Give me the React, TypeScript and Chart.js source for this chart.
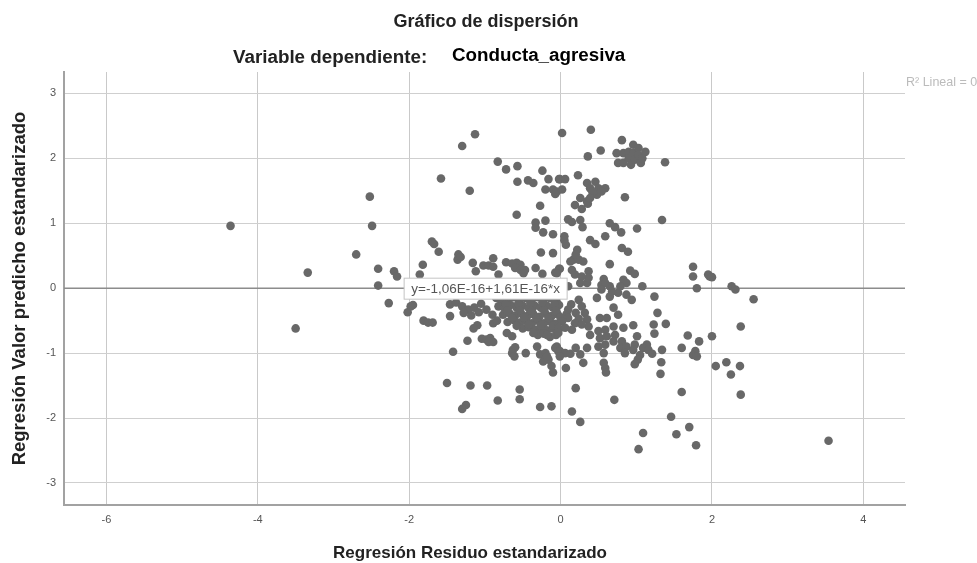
import React, { useEffect, useRef } from "react";
import { Chart, registerables } from "chart.js";

Chart.register(...registerables);

type Pt = [number, number];

const chartTitle = "Gráfico de dispersión";
const subtitleLabel = "Variable dependiente:";
const subtitleVariable = "Conducta_agresiva";
const xAxisTitle = "Regresión Residuo estandarizado";
const yAxisTitle = "Regresión Valor predicho estandarizado";
const fitLabel = "y=-1,06E-16+1,61E-16*x";
const legendLabel = "R² Lineal = 0";

const xBounds = [-6.56, 4.55];
const yBounds = [-3.34, 3.33];
const fitLineY = [0, 0];

const outliers: Pt[] = [
  [-4.36, 0.96], [-3.5, -0.62], [-3.34, 0.24], [-2.7, 0.52], [-2.52, 1.41], [-2.49, 0.96],
  [-2.41, 0.3], [-2.41, 0.04], [-2.27, -0.23], [-2.2, 0.26], [-2.16, 0.18], [3.54, -2.35],
];

const upperLeft: Pt[] = [
  [-1.13, 2.37], [-1.3, 2.19], [-0.83, 1.95], [-0.72, 1.83], [-0.57, 1.88], [-1.58, 1.69],
  [-1.2, 1.5], [-0.57, 1.64], [-0.43, 1.66], [-0.36, 1.62], [-0.24, 1.81], [-0.16, 1.68],
  [-0.2, 1.52], [-0.1, 1.52], [-0.07, 1.45], [-0.02, 1.68], [-0.27, 1.27], [-0.58, 1.13],
  [-0.33, 1.01], [-0.33, 0.93], [-0.2, 1.04], [-0.23, 0.86], [-0.1, 0.83], [-1.7, 0.72],
  [-1.67, 0.68], [-1.61, 0.56], [-1.35, 0.52], [-1.36, 0.44], [-1.32, 0.48], [-1.82, 0.36],
  [-1.86, 0.21], [-1.16, 0.39], [-1.12, 0.26], [-0.89, 0.46], [-1.02, 0.35], [-0.95, 0.35],
  [-0.89, 0.33], [-0.26, 0.55], [-0.1, 0.54], [-0.72, 0.4], [-0.64, 0.38], [-0.58, 0.39],
  [-0.53, 0.36], [-0.6, 0.31], [-0.53, 0.28], [-0.47, 0.28], [-0.49, 0.23], [-0.33, 0.31],
  [-0.24, 0.22], [-0.07, 0.24], [-0.02, 0.3], [-0.82, 0.21],
];

const upperRight: Pt[] = [
  [0.02, 2.39], [0.4, 2.44], [0.81, 2.28], [0.53, 2.12], [0.36, 2.03], [1.38, 1.94],
  [0.74, 2.08], [0.76, 1.93], [0.83, 1.93], [0.83, 2.08], [0.9, 2.1], [0.9, 2.0],
  [0.93, 1.9], [0.96, 2.21], [0.96, 2.08], [0.98, 1.98], [1.03, 2.16], [1.03, 2.05],
  [1.06, 1.93], [1.12, 2.1], [1.08, 2.0], [0.23, 1.74], [-0.01, 1.68], [0.06, 1.68],
  [-0.05, 1.49], [0.02, 1.52], [0.35, 1.62], [0.46, 1.64], [0.39, 1.54], [0.5, 1.54],
  [0.59, 1.54], [0.48, 1.44], [0.54, 1.49], [0.42, 1.48], [0.85, 1.4], [0.26, 1.39],
  [0.35, 1.34], [0.19, 1.28], [0.28, 1.22], [0.36, 1.3], [0.39, 1.39], [1.34, 1.05],
  [1.01, 0.92], [0.1, 1.06], [0.15, 1.02], [0.26, 1.05], [0.29, 0.94], [0.65, 1.0],
  [0.72, 0.94], [0.8, 0.86], [0.59, 0.8], [0.05, 0.8], [0.05, 0.74], [0.07, 0.67],
  [0.39, 0.74], [0.46, 0.68], [0.81, 0.62], [0.89, 0.56], [0.22, 0.59], [0.65, 0.37],
  [0.17, 0.44], [0.24, 0.44], [0.3, 0.41], [0.13, 0.41], [0.2, 0.52], [-0.01, 0.3],
  [-0.05, 0.23], [0.15, 0.28], [0.19, 0.21], [0.37, 0.26], [0.26, 0.08], [0.35, 0.08],
  [0.37, 0.16], [0.1, 0.03], [0.28, 0.18], [0.57, 0.14], [0.54, 0.05], [0.65, 0.03],
  [0.59, 0.08], [0.83, 0.13], [0.87, 0.08], [0.92, 0.27], [0.98, 0.22], [1.08, 0.03],
  [1.75, 0.33], [1.75, 0.18], [1.97, 0.18], [1.95, 0.21], [2.0, 0.17], [1.8, 0.0],
  [2.26, 0.03], [2.31, -0.02],
];

const lowerLeft: Pt[] = [
  [-1.95, -0.26], [-2.02, -0.37], [-1.98, -0.28], [-1.81, -0.5], [-1.75, -0.53], [-1.69, -0.53],
  [-1.46, -0.43], [-1.1, -0.57], [-1.15, -0.62], [-1.23, -0.81], [-1.04, -0.78], [-0.98, -0.79],
  [-0.93, -0.77], [-0.89, -0.83], [-0.95, -0.83], [-1.42, -0.98], [-1.5, -1.46], [-1.19, -1.5],
  [-0.97, -1.5], [-0.54, -1.56], [-0.54, -1.71], [-0.83, -1.73], [-1.25, -1.8], [-1.3, -1.86],
  [-0.27, -1.83], [-0.12, -1.82], [-0.63, -0.95], [-0.6, -0.91], [-0.64, -1.0], [-0.61, -1.05],
  [-0.46, -1.0], [-0.71, -0.69], [-0.64, -0.74], [-0.31, -0.9], [-0.27, -1.02], [-0.2, -1.0],
  [-0.16, -1.1], [-0.23, -1.13], [-0.12, -1.2], [-0.1, -1.3], [-0.18, -1.05], [-0.05, -0.9],
  [-0.03, -0.97], [-0.89, -0.54],
];

const denseCluster: Pt[] = [
  [-1.46, -0.25], [-1.38, -0.22], [-1.3, -0.28], [-1.22, -0.33], [-1.14, -0.3], [-1.05, -0.24],
  [-0.98, -0.33], [-0.9, -0.41], [-0.84, -0.5], [-1.28, -0.38], [-1.18, -0.42], [-1.08, -0.37],
  [-0.85, -0.15], [-0.78, -0.2], [-0.7, -0.17], [-0.62, -0.14], [-0.54, -0.19], [-0.46, -0.15],
  [-0.38, -0.18], [-0.3, -0.14], [-0.22, -0.17], [-0.14, -0.15], [-0.06, -0.19], [-0.82, -0.28],
  [-0.74, -0.31], [-0.66, -0.26], [-0.58, -0.3], [-0.5, -0.27], [-0.42, -0.31], [-0.34, -0.27],
  [-0.26, -0.3], [-0.18, -0.27], [-0.1, -0.3], [-0.02, -0.26], [-0.76, -0.41], [-0.68, -0.38],
  [-0.6, -0.42], [-0.52, -0.39], [-0.44, -0.43], [-0.36, -0.4], [-0.28, -0.44], [-0.2, -0.39],
  [-0.12, -0.43], [-0.04, -0.4], [-0.7, -0.52], [-0.62, -0.49], [-0.54, -0.53], [-0.46, -0.5],
  [-0.38, -0.54], [-0.3, -0.5], [-0.22, -0.54], [-0.14, -0.51], [-0.06, -0.55], [-0.5, -0.62],
  [-0.42, -0.6], [-0.34, -0.64], [-0.26, -0.61], [-0.18, -0.65], [-0.1, -0.62], [-0.3, -0.72],
  [-0.22, -0.7], [-0.14, -0.75], [-0.06, -0.72], [-0.72, -0.25], [-0.56, -0.24], [-0.4, -0.23],
  [-0.24, -0.22], [-0.08, -0.24], [-0.7, -0.35], [-0.54, -0.34], [-0.38, -0.35], [-0.22, -0.34],
  [-0.06, -0.35], [-0.64, -0.46], [-0.48, -0.45], [-0.32, -0.46], [-0.16, -0.46], [0.0, -0.45],
  [-0.58, -0.58], [-0.42, -0.56], [-0.26, -0.57], [-0.1, -0.58], [-0.36, -0.69], [-0.18, -0.72],
  [-0.02, -0.63], [0.08, -0.4], [0.14, -0.25], [0.2, -0.38], [0.24, -0.47], [-1.0, -0.1],
  [-0.9, -0.06], [-0.76, -0.08], [-0.6, -0.06], [-0.42, -0.08], [-0.26, -0.06], [-0.1, -0.08],
];

const lowerRight: Pt[] = [
  [1.24, -0.13], [1.28, -0.38], [1.23, -0.56], [1.39, -0.55], [1.24, -0.7], [1.68, -0.73],
  [1.83, -0.82], [2.0, -0.74], [1.6, -0.92], [1.78, -0.97], [1.75, -1.03], [1.8, -1.05],
  [1.34, -0.95], [1.33, -1.14], [1.32, -1.32], [1.6, -1.6], [0.71, -1.72], [0.2, -1.54],
  [0.15, -1.9], [0.26, -2.06], [0.07, -1.23], [1.46, -1.98], [1.7, -2.14], [1.09, -2.23],
  [1.53, -2.25], [1.03, -2.48], [1.79, -2.42], [2.55, -0.17], [2.38, -0.59], [2.05, -1.2],
  [2.19, -1.14], [2.37, -1.2], [2.25, -1.33], [2.38, -1.64], [0.24, -0.18], [0.28, -0.28],
  [0.32, -0.38], [0.35, -0.48], [0.37, -0.59], [0.1, -0.33], [0.1, -0.46], [0.02, -0.51],
  [0.19, -0.54], [0.28, -0.56], [-0.03, -0.61], [0.06, -0.61], [0.15, -0.64], [-0.03, -0.69],
  [0.39, -0.72], [0.48, -0.15], [0.65, -0.13], [0.76, -0.07], [0.87, -0.1], [0.94, -0.18],
  [0.54, -0.02], [0.68, -0.05], [0.79, 0.03], [0.7, -0.3], [0.76, -0.41], [0.52, -0.46],
  [0.61, -0.46], [0.5, -0.66], [0.59, -0.64], [0.7, -0.59], [0.83, -0.61], [0.96, -0.57],
  [0.52, -0.77], [0.61, -0.74], [0.72, -0.72], [0.5, -0.9], [0.59, -0.87], [0.7, -0.82],
  [0.81, -0.82], [1.01, -0.74], [0.57, -1.0], [0.79, -0.92], [0.87, -0.9], [0.98, -0.87],
  [0.85, -1.0], [0.96, -0.95], [1.14, -0.87], [1.09, -0.92], [1.16, -0.95], [1.21, -1.01],
  [1.05, -1.03], [1.02, -1.1], [0.98, -1.17], [0.57, -1.15], [0.59, -1.23], [0.6, -1.3],
  [-0.07, -0.92], [-0.01, -0.97], [0.06, -1.0], [0.13, -1.01], [0.2, -0.92], [0.26, -1.02],
  [0.3, -1.15], [0.35, -0.92], [-0.01, -1.05],
];

const scatterPoints = [...outliers, ...upperLeft, ...upperRight, ...lowerLeft, ...denseCluster, ...lowerRight];

const FONT = '"Liberation Sans", Arial, sans-serif';

const annotations = {
  id: "annotations",
  afterDraw(chart: any) {
    const { ctx, scales } = chart;
    ctx.save();
    ctx.textBaseline = "middle";
    ctx.textAlign = "center";
    ctx.fillStyle = "#222";
    ctx.font = `bold 18px ${FONT}`;
    ctx.fillText(chartTitle, 486, 22);

    ctx.textAlign = "left";
    ctx.font = `bold 18.8px ${FONT}`;
    ctx.fillText(subtitleLabel, 233, 58);
    ctx.fillStyle = "#000";
    ctx.fillText(subtitleVariable, 452, 56);
    ctx.fillStyle = "#222";
    ctx.textAlign = "center";
    ctx.font = `bold 17px ${FONT}`;
    ctx.fillText(xAxisTitle, 470, 553);

    ctx.textAlign = "left";
    ctx.fillStyle = "#bbb";
    ctx.font = `12.5px ${FONT}`;
    ctx.fillText(legendLabel, 906, 83);

    const cx = scales.x.getPixelForValue(-0.99);
    const cy = scales.y.getPixelForValue(0);
    ctx.fillStyle = "#fff";
    ctx.strokeStyle = "#c4c4c4";
    ctx.lineWidth = 1;
    ctx.fillRect(cx - 81.5, cy - 10, 163, 21);
    ctx.strokeRect(cx - 81.5, cy - 10, 163, 21);
    ctx.fillStyle = "#555";
    ctx.textAlign = "center";
    ctx.font = `13.5px ${FONT}`;
    ctx.fillText(fitLabel, cx, cy + 1);
    ctx.restore();
  },
};

export default function App() {
  const ref = useRef<HTMLCanvasElement>(null);
  useEffect(() => {
    if (!ref.current) return;
    const chart = new Chart(ref.current, {
      type: "scatter",
      data: {
        datasets: [
          {
            label: "Ajuste",
            type: "line",
            data: xBounds.map((x, i) => ({ x, y: fitLineY[i] })),
            borderColor: "#8c8c8c",
            borderWidth: 1.5,
            pointRadius: 0,
            order: 2,
          },
          {
            label: "Puntos",
            data: scatterPoints.map(([x, y]) => ({ x, y })),
            backgroundColor: "#686868",
            borderColor: "#686868",
            pointRadius: 4.3,
            borderWidth: 0,
            order: 1,
          },
        ],
      },
      options: {
        animation: false,
        responsive: false,
        layout: { padding: { left: 0, right: 72, top: 72, bottom: 0 } },
        plugins: {
          legend: { display: false },
          tooltip: { enabled: false },
          title: { display: false },
        },
        scales: {
          x: {
            type: "linear",
            min: xBounds[0],
            max: xBounds[1],
            afterFit: (s: any) => { s.height = 58; },
            grid: { color: "#c9c9c9", lineWidth: 1, drawTicks: false },
            border: { color: "#a2a2a2", width: 2 },
            ticks: {
              stepSize: 2,
              includeBounds: false,
              color: "#555",
              padding: 8,
              maxRotation: 0,
              font: { family: FONT, size: 11 },
            },
          },
          y: {
            type: "linear",
            min: yBounds[0],
            max: yBounds[1],
            afterFit: (s: any) => { s.width = 64; },
            grid: { color: "#cfcfcf", lineWidth: 1, drawTicks: false },
            border: { color: "#a2a2a2", width: 2 },
            title: {
              display: true,
              text: yAxisTitle,
              color: "#222",
              font: { family: FONT, size: 18.5, weight: "bold" },
              padding: { top: 9, bottom: 0 },
            },
            ticks: {
              stepSize: 1,
              includeBounds: false,
              color: "#555",
              padding: 8,
              font: { family: FONT, size: 11 },
            },
          },
        },
      },
      plugins: [annotations],
    } as any);
    return () => chart.destroy();
  }, []);
  return (
    <div style={{ position: "absolute", left: 0, top: 0, width: 977, height: 563, overflow: "hidden", background: "#fff" }}>
      <canvas ref={ref} width={977} height={563} style={{ display: "block", filter: "blur(0.7px)" }} />
    </div>
  );
}
